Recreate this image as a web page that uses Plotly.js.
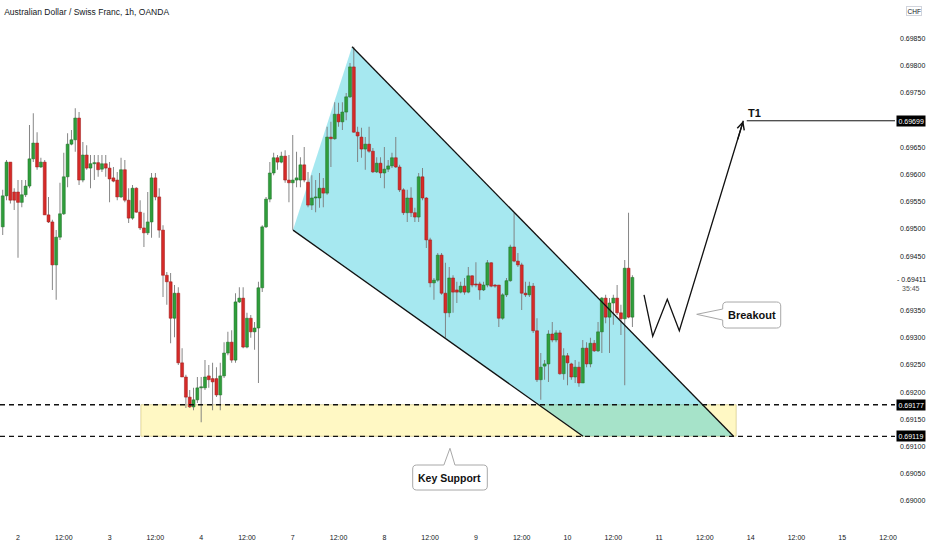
<!DOCTYPE html>
<html><head><meta charset="utf-8">
<script src="https://cdn.plot.ly/plotly-3.0.1.min.js"></script>
<style>html,body{margin:0;padding:0;background:#fff}#chart{width:932px;height:550px}</style>
</head><body><div id="chart"></div>
<script>
// AUD/CHF 1h candles (OANDA); first bar is 4 hours before day "2" 00:00
const firstBarIndex = -4;
const openP = [0.69504,0.69561,0.69623,0.69568,0.69568,0.69549,0.69563,0.69579,0.69629,0.69658,
0.69614,0.69623,0.69526,0.69513,0.69434,0.69485,0.69528,0.69596,0.69656,0.69664,
0.69704,0.69590,0.69636,0.69612,0.69620,0.69622,0.69610,0.69620,0.69612,0.69594,
0.69590,0.69559,0.69609,0.69553,0.69520,0.69575,0.69531,0.69502,0.69493,0.69513,
0.69594,0.69559,0.69498,0.69415,0.69403,0.69336,0.69382,0.69254,0.69228,0.69191,
0.69173,0.69186,0.69208,0.69208,0.69230,0.69225,0.69225,0.69195,0.69230,0.69272,
0.69292,0.69259,0.69366,0.69373,0.69283,0.69336,0.69311,0.69318,0.69392,0.69504,
0.69555,0.69603,0.69631,0.69623,0.69634,0.69590,0.69585,0.69590,0.69590,0.69618,
0.69586,0.69544,0.69557,0.69557,0.69575,0.69566,0.69669,0.69666,0.69711,0.69697,
0.69715,0.69743,0.69798,0.69678,0.69669,0.69647,0.69656,0.69643,0.69605,0.69621,
0.69603,0.69610,0.69616,0.69631,0.69614,0.69572,0.69530,0.69557,0.69530,0.69522,
0.69596,0.69557,0.69480,0.69401,0.69406,0.69452,0.69382,0.69346,0.69410,0.69388,
0.69384,0.69395,0.69384,0.69414,0.69399,0.69399,0.69388,0.69397,0.69438,0.69397,
0.69397,0.69336,0.69379,0.69405,0.69467,0.69441,0.69434,0.69382,0.69379,0.69395,
0.69313,0.69223,0.69248,0.69252,0.69307,0.69296,0.69309,0.69234,0.69267,0.69252,
0.69228,0.69246,0.69217,0.69281,0.69252,0.69290,0.69276,0.69311,0.69373,0.69338,
0.69364,0.69373,0.69346,0.69335,0.69428,0.69338];
const highP = [0.69572,0.69627,0.69623,0.69575,0.69590,0.69590,0.69590,0.69691,0.69713,0.69678,
0.69631,0.69627,0.69559,0.69517,0.69498,0.69585,0.69640,0.69676,0.69682,0.69722,
0.69715,0.69660,0.69654,0.69636,0.69636,0.69636,0.69636,0.69636,0.69623,0.69614,
0.69605,0.69631,0.69627,0.69575,0.69581,0.69577,0.69553,0.69530,0.69568,0.69603,
0.69603,0.69575,0.69507,0.69421,0.69419,0.69397,0.69393,0.69281,0.69232,0.69204,
0.69208,0.69228,0.69228,0.69259,0.69250,0.69254,0.69246,0.69254,0.69292,0.69311,
0.69314,0.69382,0.69393,0.69393,0.69346,0.69342,0.69329,0.69403,0.69507,0.69559,
0.69623,0.69640,0.69636,0.69642,0.69645,0.69636,0.69673,0.69642,0.69632,0.69651,
0.69605,0.69599,0.69590,0.69603,0.69594,0.69688,0.69697,0.69733,0.69732,0.69733,
0.69750,0.69805,0.69835,0.69688,0.69686,0.69669,0.69688,0.69649,0.69632,0.69632,
0.69651,0.69627,0.69640,0.69669,0.69618,0.69575,0.69572,0.69577,0.69539,0.69603,
0.69612,0.69559,0.69484,0.69410,0.69456,0.69456,0.69438,0.69430,0.69415,0.69403,
0.69403,0.69410,0.69430,0.69415,0.69439,0.69403,0.69403,0.69443,0.69439,0.69399,
0.69397,0.69382,0.69410,0.69471,0.69530,0.69456,0.69438,0.69403,0.69403,0.69401,
0.69336,0.69272,0.69259,0.69314,0.69329,0.69314,0.69314,0.69281,0.69272,0.69254,
0.69259,0.69256,0.69296,0.69292,0.69300,0.69296,0.69329,0.69375,0.69379,0.69373,
0.69379,0.69397,0.69361,0.69443,0.69530,0.69415];
const lowP = [0.69489,0.69553,0.69547,0.69535,0.69447,0.69540,0.69559,0.69575,0.69623,0.69609,
0.69612,0.69526,0.69511,0.69388,0.69370,0.69480,0.69526,0.69577,0.69654,0.69642,
0.69581,0.69586,0.69609,0.69575,0.69590,0.69596,0.69605,0.69596,0.69549,0.69586,
0.69553,0.69557,0.69549,0.69511,0.69517,0.69530,0.69498,0.69467,0.69489,0.69484,
0.69553,0.69484,0.69375,0.69361,0.69290,0.69301,0.69250,0.69228,0.69171,0.69171,
0.69167,0.69180,0.69145,0.69204,0.69208,0.69167,0.69191,0.69167,0.69226,0.69268,
0.69254,0.69254,0.69364,0.69281,0.69281,0.69300,0.69278,0.69217,0.69384,0.69502,
0.69549,0.69599,0.69609,0.69621,0.69585,0.69549,0.69498,0.69577,0.69577,0.69586,
0.69540,0.69535,0.69531,0.69539,0.69540,0.69563,0.69614,0.69664,0.69688,0.69682,
0.69700,0.69741,0.69677,0.69623,0.69631,0.69609,0.69640,0.69603,0.69603,0.69594,
0.69575,0.69605,0.69612,0.69612,0.69568,0.69526,0.69513,0.69522,0.69513,0.69513,
0.69553,0.69465,0.69393,0.69370,0.69403,0.69379,0.69300,0.69338,0.69346,0.69364,
0.69382,0.69379,0.69382,0.69393,0.69393,0.69370,0.69386,0.69393,0.69393,0.69392,
0.69320,0.69333,0.69375,0.69403,0.69439,0.69430,0.69351,0.69375,0.69375,0.69309,
0.69219,0.69186,0.69223,0.69219,0.69292,0.69292,0.69232,0.69223,0.69213,0.69223,
0.69217,0.69210,0.69217,0.69246,0.69246,0.69274,0.69274,0.69272,0.69327,0.69272,
0.69324,0.69342,0.69305,0.69213,0.69336,0.69320];
const closeP = [0.69561,0.69623,0.69553,0.69553,0.69549,0.69563,0.69579,0.69629,0.69658,0.69614,
0.69623,0.69526,0.69513,0.69434,0.69485,0.69528,0.69596,0.69656,0.69664,0.69704,
0.69590,0.69636,0.69612,0.69620,0.69622,0.69609,0.69620,0.69612,0.69592,0.69588,
0.69559,0.69609,0.69553,0.69520,0.69575,0.69531,0.69502,0.69493,0.69513,0.69594,
0.69559,0.69498,0.69415,0.69403,0.69336,0.69382,0.69254,0.69228,0.69191,0.69173,
0.69186,0.69208,0.69210,0.69228,0.69223,0.69219,0.69195,0.69230,0.69272,0.69292,
0.69259,0.69366,0.69373,0.69283,0.69336,0.69311,0.69318,0.69392,0.69504,0.69555,
0.69603,0.69631,0.69623,0.69634,0.69590,0.69585,0.69590,0.69594,0.69618,0.69590,
0.69544,0.69557,0.69559,0.69575,0.69566,0.69669,0.69666,0.69711,0.69697,0.69715,
0.69743,0.69798,0.69678,0.69671,0.69647,0.69656,0.69643,0.69605,0.69621,0.69603,
0.69610,0.69616,0.69631,0.69614,0.69572,0.69530,0.69557,0.69530,0.69522,0.69596,
0.69557,0.69480,0.69401,0.69406,0.69452,0.69382,0.69346,0.69410,0.69384,0.69384,
0.69395,0.69384,0.69414,0.69397,0.69397,0.69388,0.69397,0.69438,0.69395,0.69395,
0.69336,0.69379,0.69405,0.69467,0.69441,0.69434,0.69382,0.69379,0.69395,0.69313,
0.69223,0.69246,0.69252,0.69307,0.69296,0.69309,0.69234,0.69267,0.69254,0.69228,
0.69246,0.69217,0.69281,0.69252,0.69290,0.69276,0.69311,0.69373,0.69338,0.69364,
0.69373,0.69346,0.69335,0.69428,0.69338,0.69411];

// time axis labels, one every 12 bars
const xTickLabels = ['2','12:00','3','12:00','4','12:00','7','12:00','8','12:00','9','12:00','10','12:00','11','12:00','14','12:00','15','12:00'];
const barsPerTick = 12;
// price axis labels
const priceTicks = [0.6900,0.6905,0.6910,0.6915,0.6920,0.6925,0.6930,0.6935,0.6945,0.6950,0.6955,0.6960,0.6965,0.6975,0.6980,0.6985];
const currencyLabel = 'CHF';
const currencyLabelPrice = 0.6990;

// drawn levels
const keySupportTop = 0.69177;
const keySupportBottom = 0.69119;
const targetT1 = 0.69699;
const lastPrice = 0.69411;
const countdown = '35:45';

// drawings (bar index, price)
const supportZoneX = [32.2, 188.2];
const channelX = [72.07, 87.53, 187.5, 148.06];
const channelY = [0.69498, 0.69835, 0.69119, 0.69119];
const zigX = [164.05, 166.33, 170.15, 173.3, 190.07];
const zigY = [0.69379, 0.69303, 0.69371, 0.69313, 0.69699];
const breakoutBox = {x: [184.67, 199.87], y: [0.69318, 0.693658]};
const breakoutPtr = {x: 177.86, y: 0.693432, y1: 0.693529, y2: 0.693327};
const supportBox = {x: [103.43, 122.98], y: [0.690202, 0.690662]};
const supportPtr = {x: 113.2, y: 0.690969, x1: 111.6, x2: 114.5};

const X_MIN = -4.717, X_MAX = 229.82, Y_MIN = 0.689504, Y_MAX = 0.69921;
const PLOT_W = 895, PLOT_H = 528;
const pxX = PLOT_W / (X_MAX - X_MIN), pxY = PLOT_H / (Y_MAX - Y_MIN);

const n = openP.length;
const xs = [], wickBase = [], wickLen = [], bodyBase = [], bodyLen = [], bodyCol = [], bodyLine = [];
for (let i = 0; i < n; i++) {
  xs.push(firstBarIndex + i);
  wickBase.push(lowP[i]);
  wickLen.push(highP[i] - lowP[i]);
  const lo = Math.min(openP[i], closeP[i]), hi = Math.max(openP[i], closeP[i]);
  bodyBase.push(lo);
  bodyLen.push(Math.max(hi - lo, 0.000014));
  const up = closeP[i] >= openP[i];
  bodyCol.push(up ? '#2f9e3b' : '#d62a28');
  bodyLine.push(up ? '#1e6e27' : '#9a1a18');
}

const wicks = {type:'bar', x: xs, base: wickBase, y: wickLen, width: 0.24,
  marker:{color:'#7b7b7b', line:{width:0}}, hoverinfo:'skip', showlegend:false};
const bodies = {type:'bar', x: xs, base: bodyBase, y: bodyLen, width: 0.78,
  marker:{color: bodyCol, line:{color: bodyLine, width:0.5}}, hoverinfo:'skip', showlegend:false};

function f(v){ return (+v).toFixed(6); }
function P(x,y){ return f(x)+','+f(y); }
const rx = 4/pxX, ry = 4/pxY;

function calloutLeft(b, p){
  const L=b.x[0], R=b.x[1], B=b.y[0], T=b.y[1];
  return 'M'+P(L+rx,T)+' L'+P(R-rx,T)+' Q'+P(R,T)+' '+P(R,T-ry)+' L'+P(R,B+ry)+' Q'+P(R,B)+' '+P(R-rx,B)+
    ' L'+P(L+rx,B)+' Q'+P(L,B)+' '+P(L,B+ry)+' L'+P(L,p.y2)+' L'+P(p.x,p.y)+' L'+P(L,p.y1)+
    ' L'+P(L,T-ry)+' Q'+P(L,T)+' '+P(L+rx,T)+' Z';
}
function calloutTop(b, p){
  const L=b.x[0], R=b.x[1], B=b.y[0], T=b.y[1];
  return 'M'+P(L+rx,T)+' L'+P(p.x1,T)+' L'+P(p.x,p.y)+' L'+P(p.x2,T)+' L'+P(R-rx,T)+' Q'+P(R,T)+' '+P(R,T-ry)+
    ' L'+P(R,B+ry)+' Q'+P(R,B)+' '+P(R-rx,B)+' L'+P(L+rx,B)+' Q'+P(L,B)+' '+P(L,B+ry)+
    ' L'+P(L,T-ry)+' Q'+P(L,T)+' '+P(L+rx,T)+' Z';
}
function polyPath(xa, ya, close){
  let s = '';
  for (let i=0;i<xa.length;i++) s += (i? ' L':'M') + P(xa[i], ya[i]);
  return s + (close ? ' Z' : '');
}

const shapes = [
  {type:'rect', layer:'below', xref:'x', yref:'y', x0:supportZoneX[0], x1:supportZoneX[1], y0:keySupportBottom, y1:keySupportTop,
   fillcolor:'rgba(255,232,70,0.32)', line:{color:'rgba(190,175,90,0.6)', width:0.8}},
  {type:'path', layer:'below', xref:'x', yref:'y', path: polyPath(channelX, channelY, true),
   fillcolor:'rgba(0,188,212,0.35)', line:{width:0}},
  {type:'line', xref:'x', yref:'y', x0:channelX[1], y0:channelY[1], x1:channelX[2], y1:channelY[2], line:{color:'#111', width:1.3}},
  {type:'line', xref:'x', yref:'y', x0:channelX[0], y0:channelY[0], x1:channelX[3], y1:channelY[3], line:{color:'#111', width:1.3}},
  {type:'line', xref:'paper', yref:'y', x0:0, x1:1, y0:keySupportTop, y1:keySupportTop, line:{color:'#111', width:1.3, dash:'5px,4px'}},
  {type:'line', xref:'paper', yref:'y', x0:0, x1:1, y0:keySupportBottom, y1:keySupportBottom, line:{color:'#111', width:1.3, dash:'5px,4px'}},
  {type:'path', xref:'x', yref:'y', path: polyPath(zigX, zigY, false), line:{color:'#111', width:1.3}},
  {type:'line', xref:'x', yref:'y', x0:zigX[4]+0.9, x1:X_MAX, y0:targetT1, y1:targetT1, line:{color:'#111', width:1}},
  {type:'path', xref:'x', yref:'y', path: calloutLeft(breakoutBox, breakoutPtr), fillcolor:'#ffffff', line:{color:'#a8a8a8', width:1}},
  {type:'path', xref:'x', yref:'y', path: calloutTop(supportBox, supportPtr), fillcolor:'#ffffff', line:{color:'#a8a8a8', width:1}}
];

const txtFont = 'Liberation Sans, Arial, sans-serif';
function priceBox(v){
  return {xref:'paper', yref:'y', x:1, y:v, xanchor:'left', yanchor:'middle', xshift:1, showarrow:false,
    text: v.toFixed(5), bgcolor:'#000', borderpad:1.5, font:{family:txtFont, size:7, color:'#fff'}};
}
const annotations = [
  {xref:'x', yref:'y', x:zigX[4], y:zigY[4], ax:-6, ay:20, showarrow:true, arrowhead:5, arrowsize:1.1, arrowwidth:1.3, arrowcolor:'#111', text:''},
  {xref:'x', yref:'y', x:zigX[4]+0.7, y:targetT1, xanchor:'left', yanchor:'bottom', yshift:0, showarrow:false,
   text:'<b>T1</b>', font:{family:txtFont, size:11, color:'#111'}},
  {xref:'x', yref:'y', x:(breakoutBox.x[0]+breakoutBox.x[1])/2, y:(breakoutBox.y[0]+breakoutBox.y[1])/2, showarrow:false,
   text:'<b>Breakout</b>', font:{family:txtFont, size:11, color:'#111'}},
  {xref:'x', yref:'y', x:(supportBox.x[0]+supportBox.x[1])/2, y:(supportBox.y[0]+supportBox.y[1])/2, showarrow:false,
   text:'<b>Key Support</b>', font:{family:txtFont, size:10.5, color:'#111'}},
  priceBox(targetT1), priceBox(keySupportTop), priceBox(keySupportBottom),
  {xref:'paper', yref:'y', x:1, y:lastPrice, xanchor:'left', yanchor:'middle', xshift:1, yshift:-2, showarrow:false,
   text:'- '+lastPrice.toFixed(5), bgcolor:'#fff', borderpad:0, font:{family:txtFont, size:7, color:'#131722'}},
  {xref:'paper', yref:'y', x:1, y:lastPrice, xanchor:'left', yanchor:'middle', xshift:5, yshift:-11, showarrow:false,
   text:countdown, font:{family:txtFont, size:7, color:'#555'}},
  {xref:'paper', yref:'y', x:1, y:currencyLabelPrice, xanchor:'center', yanchor:'middle', xshift:19, showarrow:false,
   text:currencyLabel, bgcolor:'#fff', bordercolor:'#d1d4dc', borderwidth:1, borderpad:0.5, font:{family:txtFont, size:6.5, color:'#131722'}}
];

const layout = {
  width:932, height:550,
  margin:{l:0, r:37, t:0, b:22},
  paper_bgcolor:'#fff', plot_bgcolor:'#fff',
  title:{text:'Australian Dollar / Swiss Franc, 1h, OANDA', x:0.0045, xanchor:'left', y:0.978, yanchor:'middle',
         font:{family:txtFont, size:8.5, color:'#131722'}},
  barmode:'overlay', showlegend:false, hovermode:false,
  xaxis:{range:[X_MIN, X_MAX], tickvals: xTickLabels.map((_,k)=>k*barsPerTick), ticktext: xTickLabels, ticklabelstandoff:4,
         showgrid:false, zeroline:false, showline:false, ticks:'', tickfont:{family:txtFont, size:7, color:'#131722'}, fixedrange:true},
  yaxis:{range:[Y_MIN, Y_MAX], side:'right', tickvals: priceTicks, tickformat:'.5f', ticklabelstandoff:4,
         showgrid:false, zeroline:false, showline:false, ticks:'', tickfont:{family:txtFont, size:7, color:'#131722'}, fixedrange:true},
  shapes: shapes, annotations: annotations
};

Plotly.newPlot('chart', [wicks, bodies], layout, {staticPlot:true, displayModeBar:false});
</script>
</body></html>
